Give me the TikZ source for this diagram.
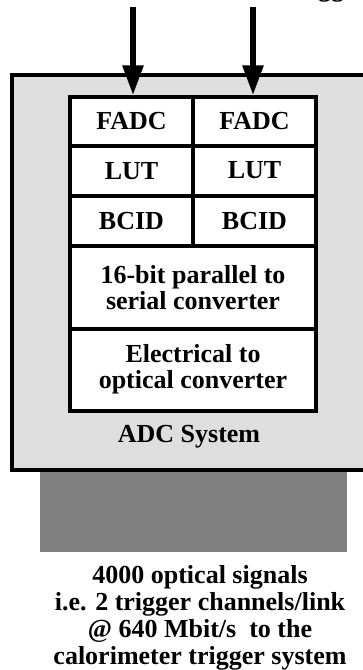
\documentclass[tikz,border=0pt]{standalone}
\usepackage{fontspec}
\setmainfont{Liberation Serif}
\usetikzlibrary{arrows.meta}
\definecolor{boxgray}{HTML}{DEDEDE}
\definecolor{bargray}{HTML}{808080}
\begin{document}
\begin{tikzpicture}[x=1pt,y=-1pt,
  cell/.style={draw=black,line width=3.5pt,fill=white,rectangle,inner sep=0pt,
    font=\fontsize{26}{26}\selectfont\bfseries,align=center},
  sigarrow/.style={line width=6pt,-{Triangle[width=20pt,length=30pt]}},
  lbl/.style={font=\fontsize{26}{27}\selectfont\bfseries,align=center,inner sep=0pt}]
\useasboundingbox (0,0) rectangle (363,670);
\begin{scope}
\clip (0,0) rectangle (363,670);
% outer system box
\draw[line width=4pt,fill=boxgray] (12,75) rectangle (380,470);
% grey bar
\fill[bargray] (40,472) rectangle (347,552);
% clipped text fragment at top right
\node[lbl,anchor=base] (frag) at (331,-4) {gg};
\end{scope}
% cells
\node[cell,minimum width=123pt,minimum height=49pt] (fadc1) at (131.5,121.5) {\raisebox{2pt}{FADC}};
\node[cell,minimum width=123pt,minimum height=49pt] (fadc2) at (254.5,121.5) {\raisebox{2pt}{FADC}};
\node[cell,minimum width=123pt,minimum height=50pt] (lut1) at (131.5,171) {LUT};
\node[cell,minimum width=123pt,minimum height=50pt] (lut2) at (254.5,171) {\raisebox{3pt}{LUT}};
\node[cell,minimum width=123pt,minimum height=50pt] (bcid1) at (131.5,221) {BCID};
\node[cell,minimum width=123pt,minimum height=50pt] (bcid2) at (254.5,221) {BCID};
\node[cell,minimum width=246pt,minimum height=83pt] (ser) at (193,287.5) {16-bit parallel to\\serial converter};
\node[cell,minimum width=246pt,minimum height=82pt] (eo) at (193,370) {\raisebox{4pt}{\begin{tabular}{@{}c@{}}Electrical to\\optical converter\end{tabular}}};
\node[lbl] (adc) at (189,437) {ADC System};
% arrows
\coordinate (in1) at (133,7);
\coordinate (in2) at (253,7);
\draw[sigarrow] (in1) -- (in1 |- fadc1.north);
\draw[sigarrow] (in2) -- (in2 |- fadc2.north);
% bottom text
\node[lbl] (out) at (200,618) {4000 optical signals\\i.e. 2 trigger channels/link\\@ 640 Mbit/s\ \ to the\\calorimeter trigger system};
\end{tikzpicture}
\end{document}
